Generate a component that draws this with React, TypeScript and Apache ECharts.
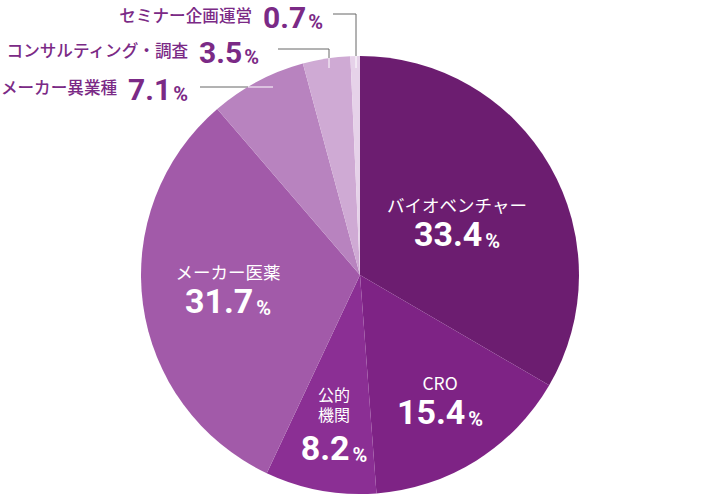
import React, { useEffect, useRef } from "react";
import * as echarts from "echarts";

const categories = [
  "バイオベンチャー",
  "CRO",
  "公的機関",
  "メーカー医薬",
  "メーカー異業種",
  "コンサルティング・調査",
  "セミナー企画運営",
];
const labelTexts = [
  "バイオベンチャー",
  "CRO",
  "公的\n機関",
  "メーカー医薬",
  "メーカー異業種",
  "コンサルティング・調査",
  "セミナー企画運営",
];
const shares = [33.4, 15.4, 8.2, 31.7, 7.1, 3.5, 0.7];
const sliceColors = ["#6c1d70", "#7e2385", "#8b2f94", "#a25aa9", "#b883bf", "#cfaad4", "#e6d2e9"];
const outsideLabel = [false, false, false, false, true, true, true];

const labelAnchors: any[] = [
  { x: 457, y: 191, align: "center", verticalAlign: "top" },
  { x: 440, y: 369, align: "center", verticalAlign: "top" },
  { x: 334, y: 384, align: "center", verticalAlign: "top" },
  { x: 228, y: 258, align: "center", verticalAlign: "top" },
  { x: 188, y: 87, align: "right", verticalAlign: "middle" },
  { x: 259, y: 50, align: "right", verticalAlign: "middle" },
  { x: 323, y: 15, align: "right", verticalAlign: "middle" },
];
const leaderPoints: any[] = [
  null,
  null,
  null,
  null,
  [[248, 87], [230, 87], [200, 87]],
  [[329, 58], [329, 49], [278, 49]],
  [[356, 56], [356, 14], [333, 14]],
];

const PURPLE = "#7b2a86";
const CJK = "'Noto Sans CJK JP', sans-serif";
const NUM = "Roboto, 'Noto Sans', sans-serif";

export default function App() {
  const ref = useRef<HTMLDivElement>(null);
  useEffect(() => {
    if (!ref.current) return;
    document.body.style.margin = "0";
    const chart = echarts.init(ref.current, undefined, { renderer: "svg" });
    const data = categories.map((name, i) => {
      const item: any = {
        name,
        value: shares[i],
        itemStyle: { color: sliceColors[i] },
      };
      if (outsideLabel[i]) {
        item.label = { position: "outside" };
        item.labelLine = { show: true, lineStyle: { color: "#666666", width: 1 } };
      } else {
        item.labelLine = { show: false };
      }
      return item;
    });
    chart.setOption({
      animation: false,
      backgroundColor: "#ffffff",
      series: [
        {
          type: "pie",
          center: [360, 275],
          radius: [0, 219],
          startAngle: 90,
          clockwise: true,
          avoidLabelOverlap: false,
          data,
          label: {
            show: true,
            position: "inside",
            formatter: (p: any) => {
              const i = p.dataIndex;
              const v = shares[i].toFixed(1);
              const lines = labelTexts[i].split("\n");
              if (outsideLabel[i]) {
                return `{on|${lines[0]}}{ov|${v}}{op|%}`;
              }
              if (lines.length > 1) {
                return lines.map((l) => `{m|${l}}`).join("\n") + `\n{vv|${v}}{pp|%}`;
              }
              return `{n|${lines[0]}}\n{v|${v}}{p|%}`;
            },
            rich: {
              n: { fontFamily: CJK, fontSize: 17.5, color: "#ffffff", lineHeight: 26, verticalAlign: "middle" },
              m: { fontFamily: CJK, fontSize: 16, color: "#ffffff", lineHeight: 20, verticalAlign: "middle" },
              v: { fontFamily: NUM, fontSize: 34, fontWeight: "bold", color: "#ffffff", lineHeight: 34, verticalAlign: "bottom" },
              p: { fontFamily: NUM, fontSize: 20, fontWeight: "bold", color: "#ffffff", lineHeight: 26, verticalAlign: "bottom", padding: [0, 0, 0, 3] },
              vv: { fontFamily: NUM, fontSize: 34, fontWeight: "bold", color: "#ffffff", lineHeight: 41, verticalAlign: "bottom" },
              pp: { fontFamily: NUM, fontSize: 20, fontWeight: "bold", color: "#ffffff", lineHeight: 33, verticalAlign: "bottom", padding: [0, 0, 0, 3] },
              on: { fontFamily: CJK, fontSize: 16.6, fontWeight: 500, color: PURPLE, lineHeight: 34, verticalAlign: "middle", padding: [0, 11, 0, 0] },
              ov: { fontFamily: NUM, fontSize: 30, fontWeight: "bold", color: PURPLE, lineHeight: 34, verticalAlign: "bottom" },
              op: { fontFamily: NUM, fontSize: 20, fontWeight: "bold", color: PURPLE, lineHeight: 28, verticalAlign: "bottom", padding: [0, 0, 0, 2] },
            },
          },
          labelLine: { show: false },
          labelLayout: (params: any) => {
            const i = params.dataIndex;
            const a = labelAnchors[i];
            const res: any = { x: a.x, y: a.y, align: a.align, verticalAlign: a.verticalAlign };
            if (leaderPoints[i]) res.labelLinePoints = leaderPoints[i];
            return res;
          },
          emphasis: { disabled: true },
        },
      ],
      graphic: [
        { type: "line", shape: { x1: 248, y1: 87, x2: 273, y2: 87 }, style: { stroke: "#ffffff", lineWidth: 1 }, z: 100 },
        { type: "line", shape: { x1: 329, y1: 58, x2: 329, y2: 68 }, style: { stroke: "#ffffff", lineWidth: 1 }, z: 100 },
        { type: "line", shape: { x1: 356, y1: 56, x2: 356, y2: 68 }, style: { stroke: "#ffffff", lineWidth: 1 }, z: 100 },
      ],
    });
    return () => chart.dispose();
  }, []);
  return <div ref={ref} style={{ width: 720, height: 496 }} />;
}
